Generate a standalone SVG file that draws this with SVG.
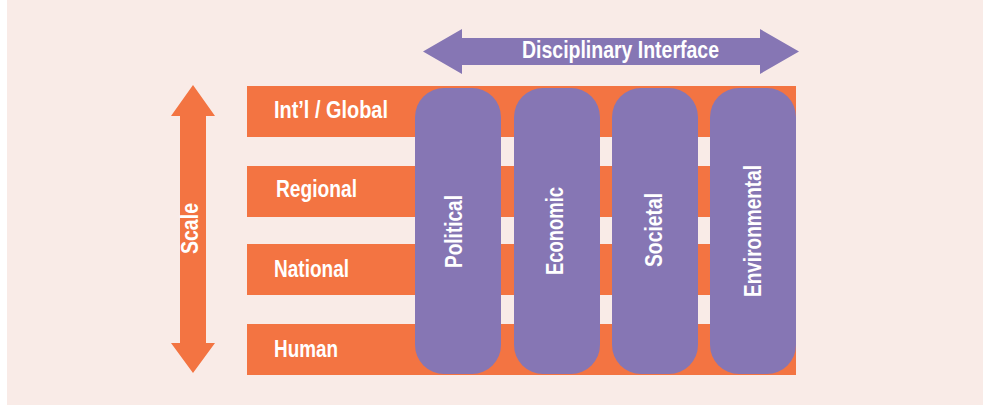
<svg xmlns="http://www.w3.org/2000/svg" width="983" height="405" viewBox="0 0 983 405">
<style>
.bg{fill:#F9EBE7}
.bar{fill:#F37442}
.pillar{fill:#8676B4}
.arrowO{fill:#F37442}
.arrowP{fill:#8676B4}
.t{font-family:"Liberation Sans Narrow","Liberation Sans","DejaVu Sans Condensed",sans-serif;font-weight:bold;fill:#FFFFFF;font-size:23px}
</style>
<rect class="bg" x="7" y="0" width="976" height="405"/>
<g id="connectors">
  <g id="disciplinary-interface">
    <polygon class="arrowP" points="423,51.5 462,29 462,38 760,38 760,29 799,51.5 760,74 760,65 462,65 462,74"/>
    <text class="t" x="522" y="58" textLength="197" lengthAdjust="spacingAndGlyphs">Disciplinary Interface</text>
  </g>
  <g id="scale">
    <polygon class="arrowO" points="193,85 215,116 206,116 206,343 215,343 193,373 171,343 180,343 180,116 171,116"/>
    <text class="t" transform="translate(198,254) rotate(-90)" x="0" y="0" font-size="21" textLength="51" lengthAdjust="spacingAndGlyphs">Scale</text>
  </g>
</g>
<g id="bar-global">
  <rect class="bar" x="247" y="86" width="549" height="51"/>
  <text class="t" x="274" y="118" textLength="114" lengthAdjust="spacingAndGlyphs">Int’l / Global</text>
</g>
<g id="bar-regional">
  <rect class="bar" x="247" y="166" width="549" height="51"/>
  <text class="t" x="276" y="197" textLength="81" lengthAdjust="spacingAndGlyphs">Regional</text>
</g>
<g id="bar-national">
  <rect class="bar" x="247" y="244" width="549" height="51"/>
  <text class="t" x="274" y="277" textLength="75" lengthAdjust="spacingAndGlyphs">National</text>
</g>
<g id="bar-human">
  <rect class="bar" x="247" y="324" width="549" height="51"/>
  <text class="t" x="274" y="357" textLength="64" lengthAdjust="spacingAndGlyphs">Human</text>
</g>
<g id="pillar-political">
  <rect class="pillar" x="415" y="88" width="86" height="286" rx="29" ry="29"/>
  <text class="t" transform="translate(462,268) rotate(-90)" font-size="24" textLength="73" lengthAdjust="spacingAndGlyphs">Political</text>
</g>
<g id="pillar-economic">
  <rect class="pillar" x="514" y="88" width="86" height="286" rx="29" ry="29"/>
  <text class="t" transform="translate(563,275) rotate(-90)" font-size="24" textLength="88" lengthAdjust="spacingAndGlyphs">Economic</text>
</g>
<g id="pillar-societal">
  <rect class="pillar" x="612" y="88" width="86" height="286" rx="29" ry="29"/>
  <text class="t" transform="translate(662,267) rotate(-90)" font-size="24" textLength="74" lengthAdjust="spacingAndGlyphs">Societal</text>
</g>
<g id="pillar-environmental">
  <rect class="pillar" x="710" y="88" width="86" height="286" rx="29" ry="29"/>
  <text class="t" transform="translate(761,297) rotate(-90)" font-size="24" textLength="132" lengthAdjust="spacingAndGlyphs">Environmental</text>
</g>
</svg>
